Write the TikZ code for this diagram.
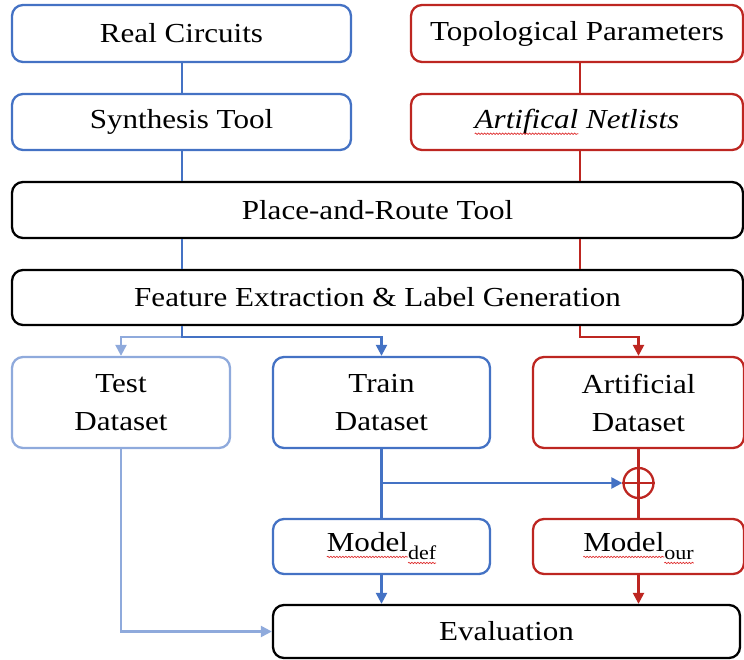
\documentclass[tikz,border=0pt]{standalone}
\usepackage{fontspec}
\setmainfont{Liberation Serif}[FakeStretch=1.13]
\usetikzlibrary{arrows.meta,shapes.geometric,decorations.pathmorphing}

\definecolor{cblue}{RGB}{68,114,196}
\definecolor{clight}{RGB}{143,170,220}
\definecolor{cred}{RGB}{189,38,33}
\definecolor{cwave}{RGB}{222,45,45}

\newcommand\bigfont{\fontsize{27.5}{38}\selectfont}
\newcommand\subfont{\fontsize{19.5}{22}\selectfont}
% wavy red underline (spell-check style) under a word
\newcommand\squig[2][5pt]{\tikz[baseline=(sq.base)]{%
  \node[shape=rectangle,draw=none,fill=none,inner sep=0pt,outer sep=0pt,
        minimum width=0pt,minimum height=0pt,sharp corners,anchor=center,
        font=,text=black] (sq) {#2};%
  \draw[overlay,draw=cwave,line width=0.7pt,sharp corners,decorate,
        decoration={snake,amplitude=0.7pt,segment length=3pt}]
    ([yshift=-#1]sq.base west) -- ([yshift=-#1]sq.base east);}}
\newcommand\sub[1]{\raisebox{-8pt}{\subfont #1}}

\begin{document}
\begin{tikzpicture}[x=1pt,y=-1pt,
  box/.style={draw, rounded corners=11pt, line width=2.3pt, inner sep=0pt,
              align=center, font=\bigfont, text=black},
  bluebox/.style={box, draw=cblue},
  lightbox/.style={box, draw=clight},
  redbox/.style={box, draw=cred},
  blackbox/.style={box, draw=black},
  link/.style={line width=2.3pt},
  arr/.style={link, -{Triangle[length=11pt,width=11pt]}}]

\useasboundingbox (0,0) rectangle (744,660);

% upper boxes
\node[bluebox, minimum width=339pt, minimum height=57pt] (real)  at (181.5,33.5) {Real Circuits};
\node[bluebox, minimum width=339pt, minimum height=56pt] (synth) at (181.5,122)  {Synthesis Tool};
\node[redbox,  minimum width=332pt, minimum height=57pt] (topo)  at (577,33.5)   {Topological Parameters};
\node[redbox,  minimum width=332pt, minimum height=56pt] (netl)  at (577,122)    {\itshape\squig{Artifical} Netlists};

% shared flow
\node[blackbox, minimum width=731pt, minimum height=56pt] (par)  at (377.5,210)   {Place-and-Route Tool};
\node[blackbox, minimum width=731pt, minimum height=55pt] (feat) at (377.5,297.5) {Feature Extraction \& Label Generation};

% datasets
\node[lightbox, minimum width=218pt, minimum height=91pt] (test)  at (121,402.5)   {Test\\Dataset};
\node[bluebox,  minimum width=217pt, minimum height=91pt] (train) at (381.5,402.5) {Train\\Dataset};
\node[redbox,   minimum width=211pt, minimum height=91pt] (art)   at (638.5,402.5) {Artificial\\Dataset};

% merge point
\node[draw=cred, line width=2.3pt, circle, minimum size=30pt,
      inner sep=0pt] (plus) at (638.5,483) {};

% models and evaluation
\node[bluebox,  minimum width=217pt, minimum height=55pt] (mdef) at (381.5,546.5) {\squig{Model}\sub{\squig[3pt]{def}}};
\node[redbox,   minimum width=211pt, minimum height=55pt] (mour) at (638.5,546.5) {\squig{Model}\sub{\squig[3pt]{our}}};
\node[blackbox, minimum width=467pt, minimum height=53pt] (eval) at (506.5,631.5) {Evaluation};

% connectors
\coordinate (bx) at (182,0);
\coordinate (rx) at (580,0);
\coordinate (split) at (0,337);

\draw[link,cblue] (real.south -| bx) -- (synth.north -| bx);
\draw[link,cblue] (synth.south -| bx) -- (par.north -| bx);
\draw[link,cblue] (par.south -| bx) -- (feat.north -| bx);
\draw[link,cred] (topo.south -| rx) -- (netl.north -| rx);
\draw[link,cred] (netl.south -| rx) -- (par.north -| rx);
\draw[link,cred] (par.south -| rx) -- (feat.north -| rx);

\draw[arr,clight] (split -| bx) -| (test.north);
\draw[arr,cblue] (feat.south -| bx) -- (split -| bx) -| (train.north);
\draw[arr,cred] (feat.south -| rx) -- (split -| rx) -| (art.north);

\draw[link,cblue] (train.south) -- (mdef.north);
\draw[arr,cblue] (train.south |- plus) -- (plus.west);
\draw[link,cred] (art.south) -- (plus.north);
\draw[link,cred] (plus.south) -- (mour.north);
\draw[link,cred] (plus.north) -- (plus.south) (plus.west) -- (plus.east);

\draw[arr,cblue] (mdef.south) -- (mdef.south |- eval.north);
\draw[arr,cred] (mour.south) -- (mour.south |- eval.north);
\draw[arr,clight] (test.south) |- (eval.west);
\end{tikzpicture}
\end{document}
